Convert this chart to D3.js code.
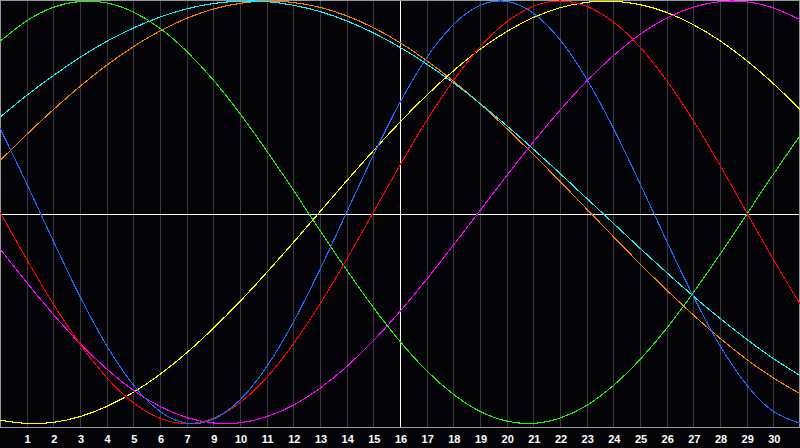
<!DOCTYPE html>
<html>
<head>
<meta charset="utf-8">
<script src="https://cdn.jsdelivr.net/npm/d3@7"></script>
<style>
  html, body { margin: 0; padding: 0; background: #050408; }
  svg { display: block; }
</style>
</head>
<body>
<svg id="chart" width="800" height="448"></svg>
<script>
// Day index 0..30 across the plot (x positions of grid columns)
const days = d3.range(0, 31);

// Tick labels placed at grid lines 1..29
const tickLabels = ["1","2","3","4","5","6","7","9","10","11","12","13","14","15","16",
  "17","18","19","20","21","22","23","24","25","26","27","28","29","30"];

// Series values (-1..1), one per day 0..30
const blueValues = [0.398,0.136,-0.136,-0.398,-0.631,-0.817,-0.942,-0.998,-0.979,-0.888,-0.731,
  -0.520,-0.270,0.000,0.270,0.520,0.731,0.888,0.979,0.998,0.942,0.817,0.631,0.398,0.136,
  -0.136,-0.398,-0.631,-0.817,-0.942,-0.998];
const redValues = [0.000,-0.223,-0.434,-0.623,-0.782,-0.901,-0.975,-1.000,-0.975,-0.901,-0.782,
  -0.623,-0.434,-0.223,0.000,0.223,0.434,0.623,0.782,0.901,0.975,1.000,0.975,0.901,0.782,
  0.623,0.434,0.223,0.000,-0.223,-0.434];
const greenValues = [0.809,0.906,0.970,0.998,0.991,0.948,0.871,0.762,0.626,0.467,0.291,
  0.105,-0.086,-0.273,-0.450,-0.611,-0.750,-0.861,-0.942,-0.988,-0.999,-0.974,-0.914,-0.820,
  -0.697,-0.549,-0.380,-0.199,-0.010,0.180,0.363];
const magentaValues = [-0.173,-0.332,-0.483,-0.621,-0.741,-0.842,-0.919,-0.971,-0.997,-0.996,
  -0.967,-0.913,-0.833,-0.730,-0.608,-0.469,-0.317,-0.156,0.008,0.173,0.333,0.483,0.621,
  0.741,0.842,0.919,0.971,0.997,0.996,0.967,0.912];
const yellowValues = [-0.984,-0.999,-0.994,-0.967,-0.919,-0.852,-0.767,-0.665,-0.549,-0.422,
  -0.285,-0.143,0.003,0.149,0.291,0.427,0.554,0.669,0.771,0.855,0.922,0.968,0.994,0.999,
  0.983,0.946,0.888,0.812,0.718,0.609,0.487];
const orangeValues = [0.244,0.368,0.486,0.596,0.696,0.784,0.858,0.918,0.962,0.989,1.000,
  0.993,0.970,0.930,0.874,0.803,0.718,0.621,0.514,0.397,0.274,0.146,0.016,-0.115,-0.244,
  -0.368,-0.486,-0.596,-0.696,-0.784,-0.858];
const cyanValues = [0.450,0.553,0.647,0.733,0.809,0.872,0.924,0.963,0.988,0.999,0.997,
  0.980,0.950,0.906,0.849,0.781,0.702,0.613,0.515,0.410,0.299,0.184,0.066,-0.052,-0.170,
  -0.285,-0.397,-0.502,-0.601,-0.692,-0.772];

const series = [
  { name: "orange",  color: "#ff8000", values: orangeValues },
  { name: "cyan",    color: "#22eeee", values: cyanValues },
  { name: "yellow",  color: "#ffff00", values: yellowValues },
  { name: "magenta", color: "#ff00ff", values: magentaValues },
  { name: "green",   color: "#22ee11", values: greenValues },
  { name: "red",     color: "#ff0000", values: redValues },
  { name: "blue",    color: "#1a6cff", values: blueValues }
];

const svg = d3.select("#chart");
const W = 800, plotBottom = 427;

svg.append("rect").attr("x", 0).attr("y", 0).attr("width", 800).attr("height", 448)
  .attr("fill", "#050408");

const x = d3.scaleLinear().domain([0, 30]).range([0, W]);
const y = d3.scaleLinear().domain([-1, 1]).range([423.6, 1.0]);

// vertical grid lines
const gridIdx = d3.range(1, 30);
svg.append("g").selectAll("line").data(gridIdx).join("line")
  .attr("x1", d => Math.round(x(d)) + 0.5).attr("x2", d => Math.round(x(d)) + 0.5)
  .attr("y1", 0).attr("y2", plotBottom)
  .attr("stroke", d => d === 15 ? "#ffffff" : "#3a3a3e")
  .attr("stroke-width", 1)
  .attr("shape-rendering", "crispEdges");

// horizontal centre line
svg.append("line")
  .attr("x1", 0).attr("x2", W).attr("y1", 214.5).attr("y2", 214.5)
  .attr("stroke", "#ffffff").attr("stroke-width", 1)
  .attr("shape-rendering", "crispEdges");

// frame
svg.append("rect").attr("x", 0.5).attr("y", 0.5).attr("width", 798.5).attr("height", plotBottom)
  .attr("fill", "none").attr("stroke", "#9a9a9a").attr("stroke-width", 1)
  .attr("shape-rendering", "crispEdges");

// curves
const line = d3.line()
  .x((d, i) => x(days[i]))
  .y(d => y(d))
  .curve(d3.curveNatural);

svg.append("g").selectAll("path").data(series).join("path")
  .attr("d", d => line(d.values))
  .attr("fill", "none")
  .attr("stroke", d => d.color)
  .attr("stroke-width", 1.1)
  .attr("shape-rendering", "crispEdges");

// re-draw white centre vertical on top? (reference shows curves over it) - keep curves on top

// labels
svg.append("g").selectAll("text").data(tickLabels).join("text")
  .attr("x", (d, i) => x(gridIdx[i]) + 1)
  .attr("y", 443)
  .attr("text-anchor", "middle")
  .attr("fill", "#ffffff")
  .attr("font-family", "'Liberation Sans', Arial, sans-serif")
  .attr("font-weight", "bold")
  .attr("font-size", "11px")
  .text(d => d);
</script>
</body>
</html>
